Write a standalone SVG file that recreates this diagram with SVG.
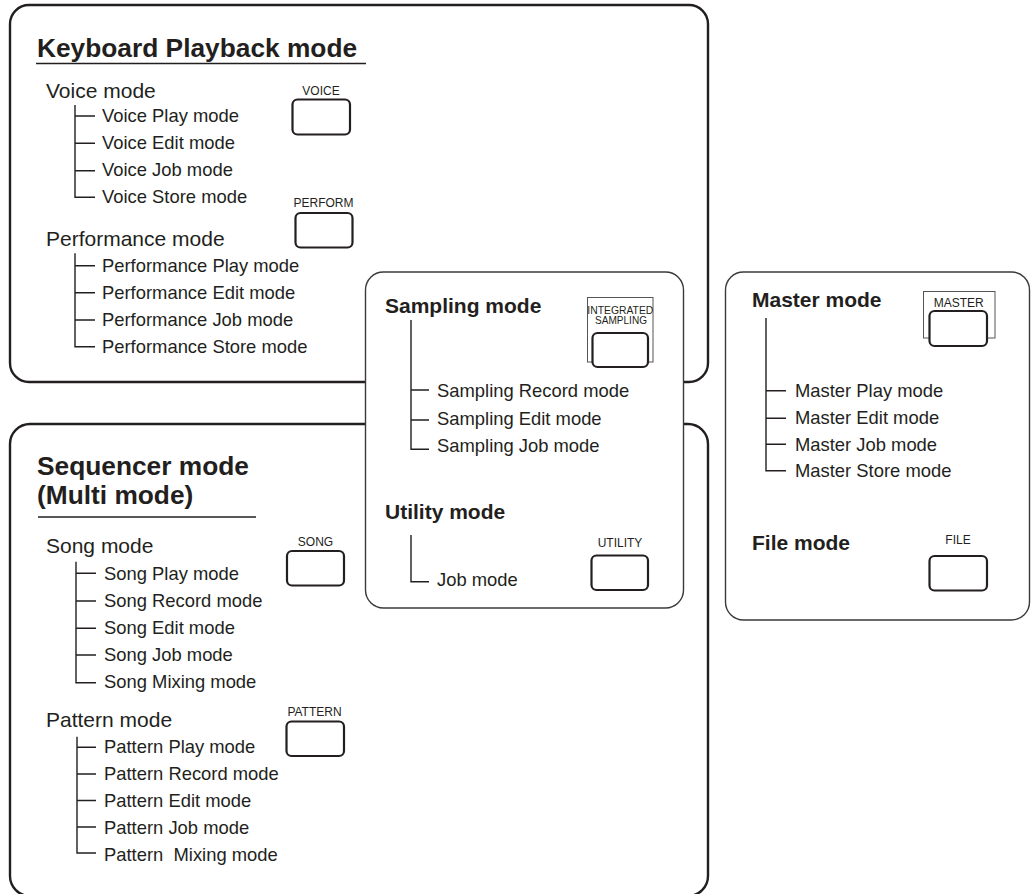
<svg xmlns="http://www.w3.org/2000/svg" width="1031" height="894" viewBox="0 0 1031 894">
<style>
text{font-family:"Liberation Sans",Arial,sans-serif;fill:#231f20}
.big{font-size:26.3px;font-weight:bold}
.sub{font-size:21px;font-weight:bold}
.par{font-size:21px}
.ch{font-size:18.4px}
.lbl{font-size:12px;text-anchor:middle}
.box{fill:#fff;stroke:#231f20;stroke-width:2.4}
.box2{fill:#fff;stroke:#3a3a3a;stroke-width:1.4}
.btn{fill:#fff;stroke:#231f20;stroke-width:2.2}
.frame{fill:#fff;stroke:#555;stroke-width:1}
.tree{fill:none;stroke:#231f20;stroke-width:1.4}
.ul{stroke:#231f20;stroke-width:1.6}
</style>
<g id="keyboard-playback">
<rect class="box" x="10" y="5" width="698" height="377" rx="19"/>
<text class="big" x="37" y="57">Keyboard Playback mode</text>
<line class="ul" x1="36" y1="63.5" x2="366" y2="63.5"/>
<text class="par" x="46" y="98">Voice mode</text>
<path class="tree" d="M75 105V197.3H95M75 116H95M75 143.3H95M75 170.7H95"/>
<text class="ch" x="102" y="122">Voice Play mode</text>
<text class="ch" x="102" y="149">Voice Edit mode</text>
<text class="ch" x="102" y="176">Voice Job mode</text>
<text class="ch" x="102" y="203">Voice Store mode</text>
<text class="lbl" x="321" y="95">VOICE</text>
<rect class="btn" x="292.5" y="99.5" width="57.5" height="35" rx="5"/>
<text class="par" x="46" y="246">Performance mode</text>
<path class="tree" d="M75 253.3V346.7H95M75 265.7H95M75 292.7H95M75 320H95"/>
<text class="ch" x="102" y="272">Performance Play mode</text>
<text class="ch" x="102" y="299">Performance Edit mode</text>
<text class="ch" x="102" y="326">Performance Job mode</text>
<text class="ch" x="102" y="353">Performance Store mode</text>
<text class="lbl" x="323.5" y="207">PERFORM</text>
<rect class="btn" x="295.5" y="213" width="57" height="34.5" rx="5"/>
</g>
<g id="sequencer">
<rect class="box" x="10" y="424" width="698" height="472" rx="20"/>
<text class="big" x="37" y="475">Sequencer mode</text>
<text class="big" x="37" y="504">(Multi mode)</text>
<line class="ul" x1="38" y1="517" x2="256" y2="517"/>
<text class="par" x="46" y="553">Song mode</text>
<path class="tree" d="M76 561.7V682.7H96M76 573.3H96M76 601H96M76 628.3H96M76 655H96"/>
<text class="ch" x="104" y="580">Song Play mode</text>
<text class="ch" x="104" y="607">Song Record mode</text>
<text class="ch" x="104" y="634">Song Edit mode</text>
<text class="ch" x="104" y="661">Song Job mode</text>
<text class="ch" x="104" y="688">Song Mixing mode</text>
<text class="lbl" x="315.5" y="545.5">SONG</text>
<rect class="btn" x="287" y="551" width="57" height="34.5" rx="5"/>
<text class="par" x="46" y="727">Pattern mode</text>
<path class="tree" d="M77 736.7V853H96M77 747.3H96M77 774H96M77 800.5H96M77 827H96"/>
<text class="ch" x="104" y="753">Pattern Play mode</text>
<text class="ch" x="104" y="780">Pattern Record mode</text>
<text class="ch" x="104" y="807">Pattern Edit mode</text>
<text class="ch" x="104" y="834">Pattern Job mode</text>
<text class="ch" x="104" y="861" xml:space="preserve">Pattern  Mixing mode</text>
<text class="lbl" x="314.5" y="716">PATTERN</text>
<rect class="btn" x="286.5" y="721.5" width="57.5" height="34.5" rx="5"/>
</g>
<g id="sampling-utility">
<rect class="box2" x="365.5" y="272" width="318" height="336" rx="18"/>
<text class="sub" x="385" y="313">Sampling mode</text>
<path class="tree" d="M411 320V449.3H429M411 390H429M411 420H429"/>
<text class="ch" x="437" y="397">Sampling Record mode</text>
<text class="ch" x="437" y="425">Sampling Edit mode</text>
<text class="ch" x="437" y="452">Sampling Job mode</text>
<rect class="frame" x="587.5" y="297.5" width="65.5" height="64.5"/>
<text class="lbl" x="620.3" y="314.3" style="font-size:11px" textLength="66" lengthAdjust="spacingAndGlyphs">INTEGRATED</text>
<text class="lbl" x="621" y="324.3" style="font-size:11px" textLength="52" lengthAdjust="spacingAndGlyphs">SAMPLING</text>
<rect class="btn" x="592.5" y="333" width="55.5" height="34" rx="5"/>
<text class="sub" x="385" y="519">Utility mode</text>
<path class="tree" d="M411 535V581.7H429"/>
<text class="ch" x="437" y="586">Job mode</text>
<text class="lbl" x="620" y="547.3">UTILITY</text>
<rect class="btn" x="591.5" y="555.5" width="56.5" height="34.5" rx="5"/>
</g>
<g id="master-file">
<rect class="box2" x="725.5" y="272" width="304" height="348" rx="18"/>
<text class="sub" x="752" y="307">Master mode</text>
<path class="tree" d="M766 318V470.7H786M766 390.7H786M766 418.3H786M766 444.3H786"/>
<text class="ch" x="795" y="397">Master Play mode</text>
<text class="ch" x="795" y="424">Master Edit mode</text>
<text class="ch" x="795" y="451">Master Job mode</text>
<text class="ch" x="795" y="477">Master Store mode</text>
<rect class="frame" x="923.5" y="291.5" width="71.5" height="46.5"/>
<text class="lbl" x="958.7" y="307">MASTER</text>
<rect class="btn" x="929.5" y="311" width="57.5" height="35" rx="5"/>
<text class="sub" x="752" y="550">File mode</text>
<text class="lbl" x="958" y="544">FILE</text>
<rect class="btn" x="929.5" y="556" width="57.5" height="34.5" rx="5"/>
</g>
<g id="connectors"/>
</svg>
